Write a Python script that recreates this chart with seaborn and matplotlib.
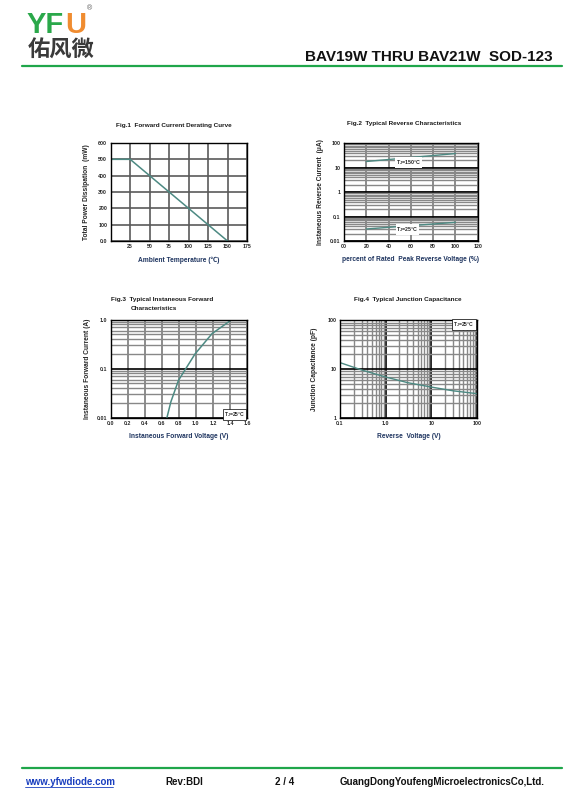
import numpy as np
import matplotlib
matplotlib.use("Agg")
import matplotlib.pyplot as plt
import matplotlib.ticker as mticker
import seaborn as sns

# <--- chart data --->
# Fig.1 derating curve
temp_c = [0, 25, 150]
power_mw = [500, 500, 0]
# Fig.2 reverse characteristics
rev_pct = [20, 100]
ir_150 = [18, 38]
ir_25 = [0.031, 0.058]
# Fig.3 forward characteristics
vf = [0.66, 0.706, 0.796, 0.99, 1.19, 1.42]
if_a = [0.01, 0.021, 0.058, 0.20, 0.52, 1.0]
# Fig.4 junction capacitance
vr = [0.1, 0.3, 1.0, 3.0, 10, 30, 100]
cj = [13.6, 9.6, 6.9, 5.3, 4.3, 3.6, 3.15]

fig1_xticks = [25, 50, 75, 100, 125, 150, 175]
fig1_yticks = [0, 100, 200, 300, 400, 500, 600]
fig1_ylabels = ["0.0", "100", "200", "300", "400", "500", "600"]
fig2_xticks = [0, 20, 40, 60, 80, 100, 120]
fig2_xlabels = ["00", "20", "40", "60", "80", "100", "120"]
fig2_yticks = [0.01, 0.1, 1, 10, 100]
fig2_ylabels = ["0.01", "0.1", "1", "10", "100"]
fig3_xticks = [0.0, 0.2, 0.4, 0.6, 0.8, 1.0, 1.2, 1.4, 1.6]
fig3_yticks = [0.01, 0.1, 1.0]
fig3_ylabels = ["0.01", "0.1", "1.0"]
fig4_xticks = [0.1, 1, 10, 100]
fig4_xlabels = ["0.1", "1.0", "10", "100"]
fig4_yticks = [1, 10, 100]
fig4_ylabels = ["1", "10", "100"]

W, H = 567, 802
sns.set_style("white")
plt.rcParams["font.family"] = ["Liberation Sans", "Noto Sans CJK SC", "DejaVu Sans"]
plt.rcParams["mathtext.fontset"] = "custom"
plt.rcParams["mathtext.rm"] = "Liberation Sans:bold"
plt.rcParams["mathtext.it"] = "Liberation Sans:bold"

fig = plt.figure(figsize=(W / 100, H / 100), dpi=100)
fig.patch.set_facecolor("white")

LINE = "#4d8a83"
DARK = "#1a1a1a"
TICK_FS = 3.8
LAB_FS = 4.8


def px_axes(x0, y0, x1, y1):
    return fig.add_axes([x0 / W, 1 - y1 / H, (x1 - x0) / W, (y1 - y0) / H])


def ftext(x, y, s, **kw):
    fig.text(x / W, 1 - y / H, s, **kw)


def style_axes(ax):
    for sp in ax.spines.values():
        sp.set_color("black")
        sp.set_linewidth(1.0)
    ax.tick_params(length=0, pad=2.5, labelsize=TICK_FS)
    for lab in ax.get_xticklabels() + ax.get_yticklabels():
        lab.set_fontweight("bold")


# ---------------- Fig.1 ----------------
ax1 = px_axes(110.7, 143, 247, 241)
ax1.set_xlim(0, 175)
ax1.set_ylim(0, 600)
ax1.set_xticks(fig1_xticks)
ax1.set_yticks(fig1_yticks)
ax1.set_yticklabels(fig1_ylabels)
ax1.grid(True, color="#5a5a5a", lw=1.2)
sns.lineplot(x=temp_c, y=power_mw, ax=ax1, color=LINE, lw=1.1)
ax1.set_xlabel("Ambient Temperature (\u2103)", fontsize=LAB_FS, fontweight="bold", color="#1f3560", labelpad=5)
ax1.set_ylabel("Total Power Dissipation  (mW)", fontsize=LAB_FS, fontweight="bold", labelpad=6)
style_axes(ax1)
ftext(174, 126, "Fig.1  Forward Current Derating Curve", fontsize=4.6, fontweight="bold", ha="center", va="center", color=DARK)

# ---------------- Fig.2 ----------------
ax2 = px_axes(344, 143.3, 477.7, 241)
ax2.set_yscale("log")
ax2.set_xlim(0, 120)
ax2.set_ylim(0.01, 100)
ax2.set_xticks(fig2_xticks)
ax2.set_xticklabels(fig2_xlabels)
ax2.set_yticks(fig2_yticks)
ax2.set_yticklabels(fig2_ylabels)
ax2.yaxis.set_minor_locator(mticker.LogLocator(base=10, subs=np.arange(2, 10)))
ax2.yaxis.set_minor_formatter(mticker.NullFormatter())
ax2.grid(True, which="major", axis="y", color="black", lw=1.3)
ax2.grid(True, which="minor", axis="y", color="#888888", lw=1.0)
ax2.grid(True, which="major", axis="x", color="#6e6e6e", lw=1.1)
sns.lineplot(x=rev_pct, y=ir_150, ax=ax2, color=LINE, lw=1.0)
sns.lineplot(x=rev_pct, y=ir_25, ax=ax2, color=LINE, lw=1.0)
tb = dict(facecolor="white", edgecolor="none", pad=0.6)
ax2.text(58, 16, "T$_J$=150\u00b0C", fontsize=3.8, fontweight="bold", ha="center", va="center", bbox=tb)
ax2.text(57, 0.029, "T$_J$=25\u00b0C", fontsize=3.8, fontweight="bold", ha="center", va="center", bbox=tb)
ax2.set_xlabel("percent of Rated  Peak Reverse Voltage (%)", fontsize=LAB_FS, fontweight="bold", color="#1f3560", labelpad=5)
ax2.set_ylabel("Instaneous Reverse Current  (\u03bcA)", fontsize=LAB_FS, fontweight="bold", labelpad=4)
style_axes(ax2)
ftext(404, 124, "Fig.2  Typical Reverse Characteristics", fontsize=4.6, fontweight="bold", ha="center", va="center", color=DARK)

# ---------------- Fig.3 ----------------
ax3 = px_axes(110.7, 319.7, 247, 417.7)
ax3.set_yscale("log")
ax3.set_xlim(0, 1.6)
ax3.set_ylim(0.01, 1.0)
ax3.set_xticks(fig3_xticks)
ax3.set_xticklabels(["%.1f" % v for v in fig3_xticks])
ax3.set_yticks(fig3_yticks)
ax3.set_yticklabels(fig3_ylabels)
ax3.yaxis.set_minor_locator(mticker.LogLocator(base=10, subs=np.arange(2, 10)))
ax3.yaxis.set_minor_formatter(mticker.NullFormatter())
ax3.grid(True, which="major", axis="y", color="black", lw=1.2)
ax3.grid(True, which="minor", axis="y", color="#888888", lw=1.0)
ax3.grid(True, which="major", axis="x", color="#6e6e6e", lw=1.1)
sns.lineplot(x=vf, y=if_a, ax=ax3, color=LINE, lw=1.1)
ax3.text(1.575, 0.0118, "T$_J$=25\u00b0C", fontsize=3.6, fontweight="bold", ha="right", va="center",
         bbox=dict(facecolor="white", edgecolor="black", lw=0.5, pad=0.8))
ax3.set_xlabel("Instaneous Forward Voltage (V)", fontsize=LAB_FS, fontweight="bold", color="#1f3560", labelpad=5)
ax3.set_ylabel("Instaneous Forward Current (A)", fontsize=LAB_FS, fontweight="bold", labelpad=4)
style_axes(ax3)
ftext(111, 300, "Fig.3  Typical Instaneous Forward", fontsize=4.6, fontweight="bold", ha="left", va="center", color=DARK)
ftext(131, 308, "Characteristics", fontsize=4.6, fontweight="bold", ha="left", va="center", color=DARK)

# ---------------- Fig.4 ----------------
ax4 = px_axes(340, 320.3, 477, 418)
ax4.set_xscale("log")
ax4.set_yscale("log")
ax4.set_xlim(0.1, 100)
ax4.set_ylim(1, 100)
ax4.set_xticks(fig4_xticks)
ax4.set_xticklabels(fig4_xlabels)
ax4.set_yticks(fig4_yticks)
ax4.set_yticklabels(fig4_ylabels)
for axis in (ax4.xaxis, ax4.yaxis):
    axis.set_minor_locator(mticker.LogLocator(base=10, subs=np.arange(2, 10)))
    axis.set_minor_formatter(mticker.NullFormatter())
ax4.grid(True, which="major", color="black", lw=1.2)
ax4.grid(True, which="minor", color="#888888", lw=1.0)
sns.lineplot(x=vr, y=cj, ax=ax4, color=LINE, lw=1.0)
ax4.text(88, 82, "T$_J$=25\u00b0C", fontsize=3.6, fontweight="bold", ha="right", va="center",
         bbox=dict(facecolor="white", edgecolor="black", lw=0.5, pad=0.8))
ax4.set_xlabel("Reverse  Voltage (V)", fontsize=LAB_FS, fontweight="bold", color="#1f3560", labelpad=5)
ax4.set_ylabel("Junction Capacitance (pF)", fontsize=LAB_FS, fontweight="bold", labelpad=7)
style_axes(ax4)
ftext(408, 300, "Fig.4  Typical Junction Capacitance", fontsize=4.6, fontweight="bold", ha="center", va="center", color=DARK)

# ---------------- page header / footer ----------------
GREEN = "#1fa64a"
ftext(27, 33, "YF", fontsize=21, fontweight="bold", color="#2aa84a", ha="left", va="baseline")
ftext(65, 33, "U", fontsize=21, fontweight="bold", color="#f08c30", ha="left", va="baseline")
ftext(87, 9, "\u00ae", fontsize=5, color="#555555", ha="left", va="center")
ftext(28, 50, "佑风微", fontsize=16, fontweight="bold", color="#3a3a3a", ha="left", va="center",
      family=["Noto Sans CJK SC", "DejaVu Sans"])
ftext(553, 57, "BAV19W THRU BAV21W  SOD-123", fontsize=11, fontweight="bold", color="#111111", ha="right", va="center")
fig.add_artist(plt.Line2D([22 / W, 562 / W], [1 - 66 / H, 1 - 66 / H], color=GREEN, lw=1.6))
fig.add_artist(plt.Line2D([22 / W, 562 / W], [1 - 768 / H, 1 - 768 / H], color=GREEN, lw=1.6))
ftext(25, 782, "www.yfwdiode.com", fontsize=7, fontweight="bold", color="#1a3fbf", ha="left", va="center")
fig.add_artist(plt.Line2D([25 / W, 113 / W], [1 - 787 / H, 1 - 787 / H], color="#1a3fbf", lw=0.6))
ftext(165, 782, "Rev:BDI", fontsize=7, fontweight="bold", color="#111111", ha="left", va="center")
ftext(275, 782, "2 / 4", fontsize=7, fontweight="bold", color="#111111", ha="left", va="center")
ftext(340, 782, "GuangDongYoufengMicroelectronicsCo,Ltd.", fontsize=7, fontweight="bold", color="#111111",
      ha="left", va="center")

fig.savefig("out.png", dpi=100, facecolor="white")
